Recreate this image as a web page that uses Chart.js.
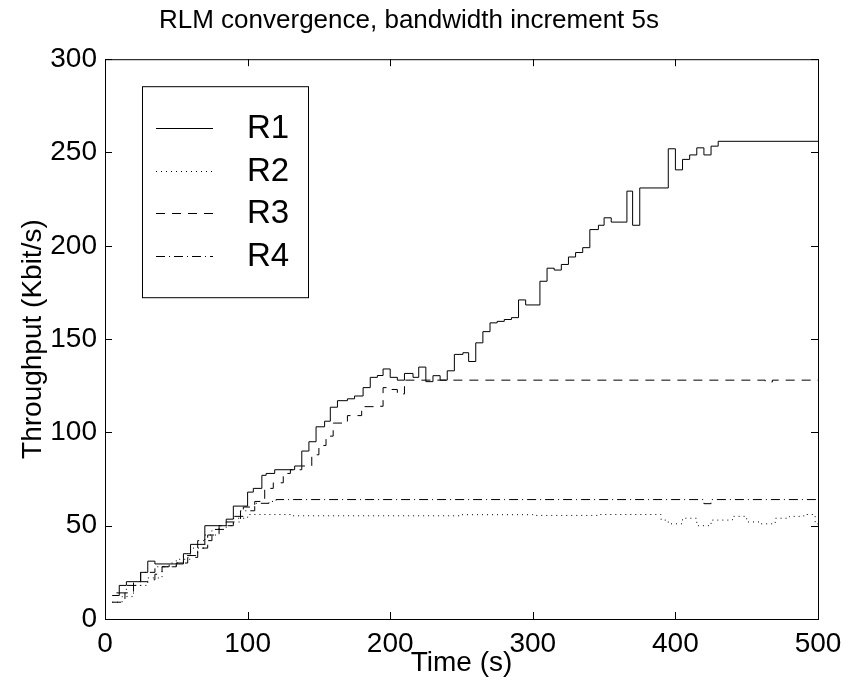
<!DOCTYPE html>
<html>
<head>
<meta charset="utf-8">
<script src="https://cdn.jsdelivr.net/npm/chart.js@4/dist/chart.umd.min.js"></script>
<style>
  html, body { margin: 0; padding: 0; background: #fff; }
  #wrap { width: 848px; height: 693px; }
</style>
</head>
<body>
<div id="wrap"><canvas id="rlmChart" width="848" height="693"></canvas></div>
<script>
// step change times (s) and the new throughput (Kbit/s) from that time on
var r1Times  = [5, 10, 15, 25, 30, 35, 55, 60, 70, 85, 90, 100, 104, 110, 113, 119, 133, 138, 143, 148, 154, 158, 163, 170, 175, 181, 186, 191, 195, 200, 205, 210, 216, 220, 225, 230, 235, 240, 245, 251, 255, 260, 265, 270, 275, 280, 285, 290, 295, 305, 310, 315, 320, 325, 330, 335, 340, 346, 350, 355, 366, 370, 375, 395, 400, 405, 410, 415, 420, 425, 430, 500];
var r1Values = [12.6, 18, 20, 25, 31, 29.5, 35, 40, 50, 53.5, 60.5, 68, 70, 77, 78, 80, 82, 90, 95, 103, 106, 113.5, 117, 118, 119.5, 124, 129.5, 130.5, 134, 129.5, 128, 131.6, 129.5, 135, 127.2, 130.4, 128, 133, 141.8, 142.7, 138, 148, 154, 158.7, 159.5, 160.5, 161.5, 171, 168.3, 181, 188, 187, 190, 194, 196.4, 199, 208.7, 211, 215, 212.7, 229.3, 211, 231, 252, 240.7, 246.3, 248.7, 252.5, 248.7, 253.4, 256, 256];

var r2Times  = [5, 12, 20, 30, 40, 50, 60, 70, 80, 90, 100, 130, 250, 300, 347, 390, 395, 405, 415, 425, 440, 450, 460, 470, 480, 490, 498, 500];
var r2Values = [9, 12, 18, 22, 28, 32, 38, 45, 50, 54, 56, 55.3, 55.9, 55.5, 56, 53, 51, 54, 50, 53, 55, 52, 51, 54, 55, 56, 51, 51];

var r3Times  = [5, 14, 20, 30, 35, 40, 50, 58, 65, 72, 80, 90, 97, 105, 112, 118, 125, 130, 138, 145, 150, 155, 160, 170, 180, 190, 195, 200, 205, 210, 463, 468, 500];
var r3Values = [9, 14, 20, 21, 24, 28, 30, 33, 38, 45, 50, 55, 60, 63, 70, 73, 78, 80, 82, 88, 93, 98, 105, 109, 113.8, 114, 124, 123, 120.6, 128, 127, 128, 128];

var r4Times  = [8, 15, 25, 35, 45, 55, 65, 75, 85, 95, 105, 115, 120, 420, 425, 500];
var r4Values = [14, 18, 25, 28, 30, 34, 42, 48, 52, 58, 62, 63, 64, 61.8, 64, 64];

var seriesNames = ['R1', 'R2', 'R3', 'R4'];
var xTicks = [0, 100, 200, 300, 400, 500];
var yTicks = [0, 50, 100, 150, 200, 250, 300];

function toPoints(times, values) {
    return times.map(function (t, i) { return { x: t, y: values[i] }; });
}

var FONT = '"Liberation Sans", Arial, sans-serif';

// matlab style frame with inward ticks on all four sides
var framePlugin = {
    id: 'frame',
    afterDraw: function (chart) {
        var ctx = chart.ctx, a = chart.chartArea;
        var xs = chart.scales.x, ys = chart.scales.y;
        ctx.save();
        ctx.strokeStyle = '#000';
        ctx.lineWidth = 1;
        ctx.strokeRect(a.left + 0.5, a.top + 0.5, a.right - a.left, a.bottom - a.top);
        ctx.beginPath();
        xTicks.forEach(function (v) {
            var px = Math.round(xs.getPixelForValue(v)) + 0.5;
            ctx.moveTo(px, a.bottom); ctx.lineTo(px, a.bottom - 7);
            ctx.moveTo(px, a.top); ctx.lineTo(px, a.top + 7);
        });
        yTicks.forEach(function (v) {
            var py = Math.round(ys.getPixelForValue(v)) + 0.5;
            ctx.moveTo(a.left, py); ctx.lineTo(a.left + 7, py);
            ctx.moveTo(a.right, py); ctx.lineTo(a.right - 7, py);
        });
        ctx.stroke();

        // boxed legend, upper left
        var bx = a.left + 37, by = a.top + 27, bw = 166, bh = 211;
        ctx.fillStyle = '#fff';
        ctx.fillRect(bx, by, bw, bh);
        ctx.strokeRect(bx + 0.5, by + 0.5, bw, bh);
        ctx.font = '33px ' + FONT;
        ctx.textBaseline = 'middle';
        ctx.textAlign = 'left';
        chart.data.datasets.forEach(function (ds, i) {
            var ry = by + 42 + i * 42.5;
            ctx.beginPath();
            ctx.setLineDash(ds.borderDash || []);
            ctx.moveTo(bx + 14, Math.round(ry) + 0.5);
            ctx.lineTo(bx + 71, Math.round(ry) + 0.5);
            ctx.stroke();
            ctx.setLineDash([]);
            ctx.fillStyle = '#000';
            ctx.fillText(ds.label, bx + 105, ry + 1);
        });
        ctx.restore();
    }
};

var lineStyle = {
    borderColor: '#000',
    borderWidth: 1,
    pointRadius: 0,
    fill: false,
    stepped: 'before'
};

new Chart(document.getElementById('rlmChart').getContext('2d'), {
    type: 'line',
    data: {
        datasets: [
            Object.assign({ label: seriesNames[0], data: toPoints(r1Times, r1Values) }, lineStyle),
            Object.assign({ label: seriesNames[1], data: toPoints(r2Times, r2Values), borderDash: [1, 4] }, lineStyle),
            Object.assign({ label: seriesNames[2], data: toPoints(r3Times, r3Values), borderDash: [9, 7] }, lineStyle),
            Object.assign({ label: seriesNames[3], data: toPoints(r4Times, r4Values), borderDash: [9, 4, 1, 4] }, lineStyle)
        ]
    },
    options: {
        responsive: false,
        animation: false,
        layout: { padding: { left: 0, right: 30, top: 0, bottom: 0 } },
        plugins: {
            legend: { display: false },
            tooltip: { enabled: false },
            title: {
                display: true,
                text: 'RLM convergence, bandwidth increment 5s',
                color: '#000',
                font: { family: FONT, size: 26, weight: 'normal' },
                padding: { top: 5, bottom: 23 }
            }
        },
        scales: {
            x: {
                type: 'linear',
                min: 0,
                max: 500,
                afterBuildTicks: function (s) { s.ticks = xTicks.map(function (v) { return { value: v }; }); },
                afterFit: function (s) { s.height = 74; },
                grid: { display: false },
                border: { display: true, color: '#000' },
                ticks: { color: '#000', font: { family: FONT, size: 28 }, padding: 0, maxRotation: 0 },
                title: {
                    display: true,
                    text: 'Time (s)',
                    color: '#000',
                    font: { family: FONT, size: 28 },
                    padding: { top: 13, bottom: 13 }
                }
            },
            y: {
                min: 0,
                max: 300,
                afterBuildTicks: function (s) { s.ticks = yTicks.map(function (v) { return { value: v }; }); },
                afterFit: function (s) { s.width = 105; },
                grid: { display: false },
                border: { display: true, color: '#000' },
                ticks: { color: '#000', font: { family: FONT, size: 28 }, padding: 0 },
                title: {
                    display: true,
                    text: 'Throughput (Kbit/s)',
                    color: '#000',
                    font: { family: FONT, size: 28 },
                    padding: { top: 16, bottom: 16 }
                }
            }
        }
    },
    plugins: [framePlugin]
});
</script>
</body>
</html>
